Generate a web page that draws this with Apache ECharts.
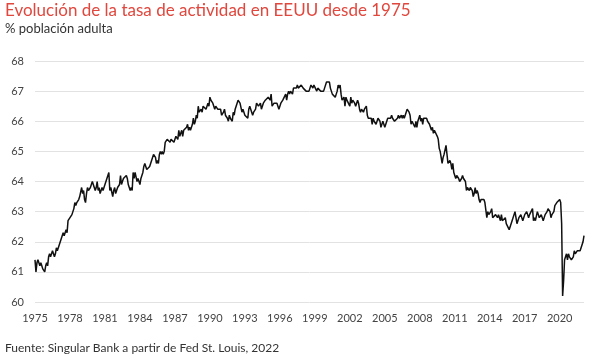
<!DOCTYPE html>
<html>
<head>
<meta charset="utf-8">
<script src="https://cdn.jsdelivr.net/npm/echarts@6/dist/echarts.min.js"></script>
<style>
html,body{margin:0;padding:0;background:#fff;}
#chart{width:600px;height:362px;}
</style>
</head>
<body>
<div id="chart"></div>
<script>
// Tasa de actividad EEUU, mensual (% población adulta), ene 1975 - feb 2022
const startYear = 1975;
const yTicks = [60, 61, 62, 63, 64, 65, 66, 67, 68];
const xTickEveryYears = 3;

const lf1975_1979 = [
  61.4, 61.0, 61.3, 61.4, 61.4, 61.2, 61.3, 61.2, 61.1, 61.1, 61.0, 61.2,
  61.3, 61.2, 61.5, 61.6, 61.5, 61.6, 61.7, 61.7, 61.5, 61.6, 61.8, 61.7,
  61.7, 61.9, 62.0, 62.0, 62.2, 62.3, 62.2, 62.3, 62.4, 62.3, 62.7, 62.7,
  62.8, 62.8, 62.9, 63.0, 63.1, 63.3, 63.2, 63.3, 63.3, 63.4, 63.5, 63.5,
  63.8, 63.6, 63.7, 63.4, 63.3, 63.6, 63.8, 63.7, 63.7, 63.8, 63.8, 64.0
];
const lf1980_1989 = [
  63.9, 63.8, 63.7, 63.8, 64.0, 63.7, 63.8, 63.6, 63.7, 63.8, 63.7, 63.8,
  63.9, 63.9, 64.1, 64.2, 64.3, 63.7, 63.8, 63.8, 63.5, 63.7, 63.8, 63.6,
  63.7, 63.8, 63.8, 63.9, 64.2, 63.9, 64.0, 64.1, 64.1, 64.1, 64.2, 64.1,
  63.9, 63.8, 63.7, 63.8, 63.7, 64.3, 64.1, 64.3, 64.3, 64.0, 64.1, 64.1,
  63.9, 64.1, 64.1, 64.3, 64.5, 64.6, 64.6, 64.4, 64.4, 64.4, 64.5, 64.6,
  64.7, 64.7, 64.9, 64.9, 64.8, 64.6, 64.7, 64.6, 64.9, 65.0, 64.9, 65.0,
  64.9, 65.0, 65.3, 65.3, 65.4, 65.4, 65.4, 65.3, 65.4, 65.4, 65.4, 65.3,
  65.4, 65.5, 65.5, 65.4, 65.7, 65.5, 65.6, 65.7, 65.5, 65.7, 65.7, 65.7,
  65.8, 65.9, 65.7, 65.8, 65.7, 65.8, 65.9, 66.1, 65.9, 66.0, 66.2, 66.1,
  66.5, 66.3, 66.3, 66.4, 66.3, 66.5, 66.5, 66.5, 66.4, 66.5, 66.6, 66.5
];
const lf1990_1999 = [
  66.8, 66.7, 66.7, 66.6, 66.6, 66.4, 66.5, 66.5, 66.4, 66.4, 66.4, 66.4,
  66.2, 66.2, 66.3, 66.4, 66.2, 66.2, 66.1, 66.0, 66.2, 66.1, 66.1, 66.0,
  66.3, 66.2, 66.4, 66.5, 66.6, 66.7, 66.7, 66.6, 66.6, 66.3, 66.4, 66.4,
  66.2, 66.2, 66.2, 66.1, 66.4, 66.5, 66.4, 66.4, 66.2, 66.3, 66.3, 66.4,
  66.6, 66.6, 66.5, 66.5, 66.6, 66.4, 66.4, 66.6, 66.6, 66.7, 66.7, 66.7,
  66.8, 66.8, 66.7, 66.9, 66.5, 66.5, 66.6, 66.6, 66.6, 66.6, 66.5, 66.4,
  66.4, 66.6, 66.6, 66.7, 66.7, 66.7, 66.9, 66.7, 66.9, 67.0, 66.9, 67.0,
  67.0, 66.9, 67.1, 67.1, 67.1, 67.1, 67.2, 67.1, 67.1, 67.1, 67.2, 67.2,
  67.1, 67.1, 67.1, 67.0, 67.0, 67.0, 67.0, 67.0, 67.2, 67.2, 67.1, 67.2,
  67.2, 67.2, 67.0, 67.1, 67.1, 67.1, 67.0, 67.0, 67.0, 67.0, 67.1, 67.1
];
const lf2000_2009 = [
  67.3, 67.3, 67.3, 67.3, 67.1, 67.1, 66.9, 66.9, 66.9, 66.8, 66.9, 67.0,
  67.2, 67.1, 67.2, 66.9, 66.7, 66.7, 66.8, 66.5, 66.8, 66.7, 66.7, 66.7,
  66.5, 66.8, 66.6, 66.7, 66.7, 66.6, 66.5, 66.6, 66.7, 66.6, 66.4, 66.3,
  66.4, 66.4, 66.3, 66.4, 66.4, 66.5, 66.2, 66.1, 66.1, 66.1, 66.1, 65.9,
  66.1, 66.0, 66.0, 65.9, 66.0, 66.1, 66.1, 66.0, 65.8, 65.9, 66.0, 65.9,
  65.8, 65.9, 65.9, 66.1, 66.1, 66.1, 66.1, 66.2, 66.1, 66.1, 66.0, 66.0,
  66.0, 66.1, 66.2, 66.1, 66.1, 66.2, 66.1, 66.2, 66.1, 66.2, 66.3, 66.4,
  66.4, 66.3, 66.2, 65.9, 66.0, 66.0, 66.0, 65.8, 66.0, 65.8, 66.0, 66.0,
  66.2, 66.0, 66.1, 65.9, 66.1, 66.1, 66.1, 66.1, 66.0, 66.0, 65.9, 65.8,
  65.7, 65.8, 65.6, 65.7, 65.7, 65.7, 65.5, 65.4, 65.1, 65.0, 65.0, 64.6
];
const lf2010_2019 = [
  64.8, 64.9, 64.9, 65.2, 64.9, 64.6, 64.6, 64.7, 64.6, 64.4, 64.6, 64.3,
  64.2, 64.1, 64.2, 64.2, 64.1, 64.0, 64.0, 64.1, 64.2, 64.1, 64.1, 64.0,
  63.7, 63.8, 63.8, 63.7, 63.8, 63.8, 63.7, 63.5, 63.6, 63.8, 63.6, 63.7,
  63.6, 63.4, 63.3, 63.4, 63.4, 63.4, 63.4, 63.3, 63.3, 62.8, 63.0, 62.9,
  62.9, 63.0, 63.1, 62.8, 62.8, 62.8, 62.9, 62.9, 62.8, 62.9, 62.9, 62.7,
  62.9, 62.7, 62.7, 62.7, 62.8, 62.6, 62.6, 62.6, 62.4, 62.5, 62.5, 62.7,
  62.7, 62.9, 63.0, 62.8, 62.6, 62.7, 62.8, 62.8, 62.9, 62.8, 62.7, 62.7,
  62.9, 62.9, 63.0, 62.9, 62.8, 62.9, 62.9, 62.9, 63.1, 62.7, 62.8, 62.7,
  62.7, 63.0, 62.9, 62.8, 62.8, 62.9, 62.9, 62.7, 62.7, 62.9, 62.9, 63.0,
  63.1, 63.1, 63.0, 62.8, 62.9, 62.9, 63.0, 63.2, 63.2, 63.3, 63.3, 63.3
];
const lf2020_2022 = [
  63.4, 63.3, 62.6, 60.2, 60.7, 61.4, 61.4, 61.6, 61.4, 61.6, 61.5, 61.5,
  61.4, 61.4, 61.5, 61.7, 61.6, 61.6, 61.7, 61.7, 61.7, 61.7, 61.8, 61.9,
  62.0, 62.2
];

const values = [].concat(lf1975_1979, lf1980_1989, lf1990_1999, lf2000_2009, lf2010_2019, lf2020_2022);
const months = values.map(function (v, i) {
  const y = startYear + Math.floor(i / 12);
  const m = (i % 12) + 1;
  return y + '-' + (m < 10 ? '0' + m : m);
});

const chart = echarts.init(document.getElementById('chart'), null, {renderer: 'canvas'});
const FONT = 'Lato, "Open Sans", sans-serif';
chart.setOption({
  animation: false,
  backgroundColor: '#ffffff',
  grid: {left: 35, right: 16, top: 61, bottom: 60, containLabel: false},
  graphic: [
    {type: 'text', left: 5, top: 2, style: {text: 'Evolución de la tasa de actividad en EEUU desde 1975', fill: '#e0473d', font: '17px ' + FONT}},
    {type: 'text', left: 5, top: 22, style: {text: '% población adulta', fill: '#333333', font: '13px ' + FONT}},
    {type: 'text', left: 5, top: 342, style: {text: 'Fuente: Singular Bank a partir de Fed St. Louis, 2022', fill: '#333333', font: '12px ' + FONT}}
  ],
  xAxis: {
    type: 'category',
    data: months,
    boundaryGap: false,
    axisLine: {show: false},
    axisTick: {show: false},
    splitLine: {show: false},
    axisLabel: {
      color: '#444444',
      fontSize: 11,
      fontFamily: FONT,
      margin: 11,
      interval: function (i) { return i % (12 * xTickEveryYears) === 0; },
      formatter: function (v) { return v.slice(0, 4); }
    }
  },
  yAxis: {
    type: 'value',
    min: yTicks[0],
    max: yTicks[yTicks.length - 1],
    interval: 1,
    axisLine: {show: false},
    axisTick: {show: false},
    splitLine: {lineStyle: {color: '#e2e2e2', width: 1}},
    axisLabel: {color: '#444444', fontSize: 11, fontFamily: FONT, margin: 11}
  },
  series: [{
    type: 'line',
    data: values,
    symbol: 'none',
    lineStyle: {color: '#111111', width: 1.5},
    silent: true
  }]
});
</script>
</body>
</html>
